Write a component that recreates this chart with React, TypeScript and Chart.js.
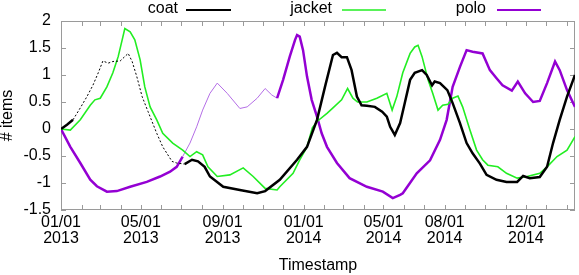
import React, { useEffect, useRef } from 'react';
import { Chart, registerables } from 'chart.js';
Chart.register(...registerables);

const START = Date.UTC(2013, 0, 1);
const dayOf = (s: string) => Math.round((Date.parse(s + 'T00:00:00Z') - START) / 86400000);

const labeledTickDates = ['2013-01-01', '2013-05-01', '2013-09-01', '2014-01-01', '2014-05-01', '2014-08-01', '2014-12-01'];
const xEndDate = '2015-02-13';
const yTicks = [-1.5, -1, -0.5, 0, 0.5, 1, 1.5, 2];

const seriesNames = ['coat', 'jacket', 'polo'];

// x values are days since 01/01/2013
const coatDays = [0, 9, 18, 29, 39, 48, 56, 63, 71, 78, 89, 101, 107, 114, 122, 131, 144, 153, 167, 174, 186, 197, 206, 216, 224, 244, 269, 295, 307, 329, 355, 370, 385, 397, 409, 415, 422, 430, 437, 445, 452, 460, 472, 483, 490, 495, 502, 510, 517, 525, 532, 543, 550, 558, 562, 570, 581, 589, 600, 610, 619, 630, 640, 655, 670, 686, 695, 705, 720, 731, 740, 750, 761, 773];
const coatValues = [0, 0.08, 0.17, 0.39, 0.6, 0.81, 1.04, 1.26, 1.22, 1.25, 1.26, 1.4, 1.25, 0.97, 0.6, 0.32, -0.08, -0.33, -0.6, -0.63, -0.65, -0.57, -0.6, -0.7, -0.88, -1.07, -1.13, -1.19, -1.15, -0.94, -0.57, -0.33, 0.17, 0.78, 1.37, 1.41, 1.33, 1.33, 1.09, 0.6, 0.44, 0.43, 0.41, 0.32, 0.23, 0.04, -0.11, 0.11, 0.48, 0.91, 1.04, 1.09, 1.0, 0.81, 0.88, 0.85, 0.72, 0.48, 0.11, -0.26, -0.45, -0.64, -0.85, -0.94, -0.98, -0.98, -0.87, -0.91, -0.89, -0.7, -0.26, 0.17, 0.6, 1.0];

const jacketDays = [0, 14, 29, 44, 51, 59, 69, 78, 86, 92, 96, 104, 111, 119, 126, 134, 144, 153, 168, 183, 194, 204, 213, 221, 235, 254, 274, 289, 307, 325, 329, 349, 359, 370, 378, 385, 400, 409, 422, 431, 439, 446, 460, 475, 490, 498, 505, 514, 525, 532, 537, 543, 552, 559, 567, 574, 582, 589, 597, 604, 615, 625, 634, 642, 657, 670, 686, 701, 720, 731, 746, 761, 773];
const jacketValues = [0, -0.02, 0.17, 0.44, 0.54, 0.57, 0.78, 1.04, 1.34, 1.65, 1.86, 1.8, 1.65, 1.28, 0.78, 0.41, 0.17, -0.08, -0.26, -0.39, -0.51, -0.42, -0.48, -0.7, -0.88, -0.85, -0.72, -0.88, -1.1, -1.13, -1.07, -0.82, -0.57, -0.33, 0.02, 0.14, 0.29, 0.39, 0.54, 0.75, 0.57, 0.5, 0.5, 0.57, 0.66, 0.35, 0.6, 1.04, 1.4, 1.52, 1.55, 1.34, 0.91, 0.66, 0.35, 0.44, 0.46, 0.57, 0.61, 0.41, -0.02, -0.39, -0.57, -0.67, -0.7, -0.82, -0.91, -0.88, -0.82, -0.7, -0.51, -0.39, -0.14];

const poloDays = [0, 14, 29, 44, 54, 69, 84, 104, 129, 149, 164, 174, 183, 194, 204, 213, 224, 235, 250, 269, 280, 295, 307, 317, 325, 334, 344, 352, 355, 359, 364, 370, 377, 385, 392, 400, 415, 434, 460, 484, 499, 510, 514, 535, 555, 570, 580, 589, 600, 610, 619, 634, 645, 655, 664, 678, 687, 698, 710, 720, 731, 743, 750, 761, 773];
const poloValues = [0, -0.33, -0.63, -0.94, -1.06, -1.16, -1.15, -1.07, -0.98, -0.88, -0.79, -0.7, -0.51, -0.26, 0.04, 0.35, 0.66, 0.85, 0.66, 0.38, 0.41, 0.57, 0.75, 0.63, 0.57, 0.91, 1.34, 1.65, 1.74, 1.71, 1.46, 0.97, 0.54, 0.23, -0.08, -0.33, -0.63, -0.91, -1.07, -1.16, -1.28, -1.22, -1.19, -0.82, -0.58, -0.2, 0.17, 0.78, 1.15, 1.46, 1.43, 1.4, 1.09, 0.94, 0.81, 0.71, 0.88, 0.66, 0.5, 0.52, 0.85, 1.25, 1.09, 0.72, 0.41];

// sparse (thin) stretches of each series, in days
const coatSparse = [20, 186];
const poloSparse = [185, 325];

const colors = ['#000000', '#22ee22', '#9400d3'];
const FONT = '"Liberation Sans", Arial, Helvetica, sans-serif';

const pad2 = (n: number) => (n < 10 ? '0' : '') + n;

export default function App() {
  const ref = useRef<HTMLCanvasElement>(null);
  useEffect(() => {
    document.body.style.margin = '0';
    const labeledDays = labeledTickDates.map(dayOf);
    const xMax = dayOf(xEndDate);
    const monthDays: number[] = [];
    for (let m = 0; ; m++) {
      const d = Math.round((Date.UTC(2013, m, 1) - START) / 86400000);
      if (d > xMax) break;
      monthDays.push(d);
    }
    const toXY = (days: number[], vals: number[]) => days.map((d, i) => ({ x: d, y: vals[i] }));
    const inRange = (r: number[]) => (c: any) => {
      const mid = (c.p0.parsed.x + c.p1.parsed.x) / 2;
      return mid >= r[0] && mid <= r[1];
    };

    const framePlugin = {
      id: 'frame',
      beforeDatasetsDraw(chart: any) {
        const { ctx, chartArea, scales } = chart;
        const { left, right, top, bottom } = chartArea;
        ctx.save();
        ctx.strokeStyle = '#9a9a9a';
        ctx.lineWidth = 1;
        ctx.strokeRect(Math.round(left) + 0.5, Math.round(top) + 0.5, Math.round(right - left) - 1, Math.round(bottom - top) - 1);
        ctx.beginPath();
        monthDays.forEach((d) => {
          const px = Math.round(scales.x.getPixelForValue(d)) + 0.5;
          ctx.moveTo(px, bottom);
          ctx.lineTo(px, bottom - 5);
          ctx.moveTo(px, top);
          ctx.lineTo(px, top + 5);
        });
        yTicks.forEach((v) => {
          const py = Math.round(scales.y.getPixelForValue(v)) + 0.5;
          ctx.moveTo(left, py);
          ctx.lineTo(left + 5, py);
          ctx.moveTo(right, py);
          ctx.lineTo(right - 5, py);
        });
        ctx.stroke();
        ctx.restore();
      },
    };

    const legendPlugin = {
      id: 'gpLegend',
      afterDraw(chart: any) {
        const { ctx } = chart;
        const items = [
          { textRight: 178, x0: 186, x1: 231 },
          { textRight: 332, x0: 342, x1: 386 },
          { textRight: 486, x0: 497, x1: 541 },
        ];
        ctx.save();
        ctx.font = `16px ${FONT}`;
        ctx.textAlign = 'right';
        ctx.textBaseline = 'middle';
        items.forEach((it, i) => {
          ctx.fillStyle = '#000';
          ctx.fillText(seriesNames[i], it.textRight, 9);
          ctx.strokeStyle = colors[i];
          ctx.lineWidth = i === 1 ? 1.5 : 2;
          ctx.beginPath();
          ctx.moveTo(it.x0, 10);
          ctx.lineTo(it.x1, 10);
          ctx.stroke();
        });
        ctx.restore();
      },
    };

    const chart = new Chart(ref.current!, {
      type: 'line',
      data: {
        datasets: [
          {
            label: seriesNames[0],
            data: toXY(coatDays, coatValues),
            borderColor: colors[0],
            borderWidth: 2.5,
            pointRadius: 0,
            segment: {
              borderWidth: (c: any) => (inRange(coatSparse)(c) ? 1 : undefined),
              borderDash: (c: any) => (inRange(coatSparse)(c) ? [2, 2] : undefined),
            },
          },
          {
            label: seriesNames[1],
            data: toXY(jacketDays, jacketValues),
            borderColor: colors[1],
            borderWidth: 1.6,
            pointRadius: 0,
          },
          {
            label: seriesNames[2],
            data: toXY(poloDays, poloValues),
            borderColor: colors[2],
            borderWidth: 2.5,
            pointRadius: 0,
            segment: {
              borderWidth: (c: any) => (inRange(poloSparse)(c) ? 1 : undefined),
              borderColor: (c: any) => (inRange(poloSparse)(c) ? '#b46ee6' : undefined),
            },
          },
        ],
      },
      options: {
        animation: false,
        responsive: false,
        layout: { padding: { top: 21, right: 4, left: 0, bottom: 0 } },
        plugins: { legend: { display: false }, tooltip: { enabled: false } },
        scales: {
          x: {
            type: 'linear',
            min: 0,
            max: xMax,
            grid: { display: false, drawTicks: false },
            border: { display: false },
            afterFit: (s: any) => { s.height = 65; },
            afterBuildTicks: (s: any) => { s.ticks = labeledDays.map((v) => ({ value: v })); },
            ticks: {
              autoSkip: false,
              maxRotation: 0,
              padding: 5,
              color: '#000',
              font: { family: FONT, size: 16, lineHeight: '16px' },
              callback: (v: any) => {
                const d = new Date(START + Number(v) * 86400000);
                return [pad2(d.getUTCMonth() + 1) + '/' + pad2(d.getUTCDate()), String(d.getUTCFullYear())];
              },
            },
            title: { display: true, text: 'Timestamp', color: '#000', padding: 0, font: { family: FONT, size: 16 } },
          },
          y: {
            min: -1.5,
            max: 2,
            grid: { display: false, drawTicks: false },
            border: { display: false },
            afterFit: (s: any) => { s.width = 61; },
            ticks: {
              stepSize: 0.5,
              padding: 10,
              color: '#000',
              font: { family: FONT, size: 16 },
              callback: (v: any) => String(Number(v)),
            },
            title: { display: true, text: '# items', color: '#000', padding: 0, font: { family: FONT, size: 16, lineHeight: 1 } },
          },
        },
      },
      plugins: [framePlugin, legendPlugin],
    } as any);
    return () => chart.destroy();
  }, []);
  return (
    <div style={{ width: 579, height: 275 }}>
      <canvas ref={ref} width={579} height={275} />
    </div>
  );
}
